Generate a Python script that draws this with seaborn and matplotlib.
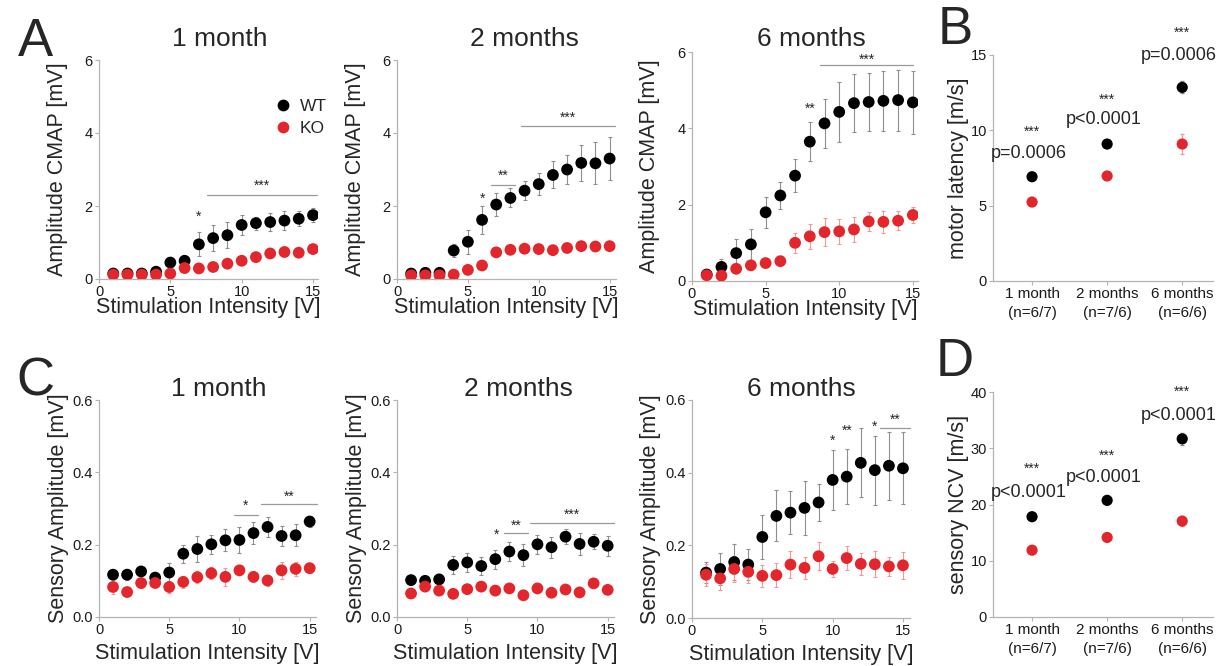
import pandas as pd
import seaborn as sns
import matplotlib.pyplot as plt

stim = list(range(1, 16))

# CMAP amplitude [mV], mean and SEM, WT / KO
cmap_1m_wt = [0.15, 0.15, 0.15, 0.2, 0.45, 0.5, 0.95, 1.12, 1.2, 1.48, 1.53, 1.56, 1.6, 1.65, 1.75]
cmap_1m_wt_err = [0.02, 0.02, 0.02, 0.04, 0.05, 0.05, 0.33, 0.35, 0.36, 0.27, 0.18, 0.24, 0.25, 0.21, 0.2]
cmap_1m_ko = [0.12, 0.12, 0.12, 0.12, 0.15, 0.3, 0.29, 0.33, 0.42, 0.5, 0.6, 0.7, 0.74, 0.72, 0.82]
cmap_1m_ko_err = [0.02, 0.02, 0.02, 0.03, 0.04, 0.05, 0.05, 0.05, 0.06, 0.05, 0.05, 0.05, 0.05, 0.05, 0.06]

cmap_2m_wt = [0.15, 0.17, 0.17, 0.78, 1.02, 1.62, 2.04, 2.22, 2.42, 2.6, 2.85, 3.0, 3.18, 3.17, 3.3]
cmap_2m_wt_err = [0.03, 0.03, 0.03, 0.17, 0.33, 0.39, 0.31, 0.26, 0.26, 0.3, 0.37, 0.41, 0.5, 0.57, 0.58]
cmap_2m_ko = [0.1, 0.1, 0.1, 0.12, 0.25, 0.37, 0.73, 0.8, 0.83, 0.82, 0.79, 0.85, 0.9, 0.89, 0.9]
cmap_2m_ko_err = [0.02, 0.02, 0.02, 0.03, 0.04, 0.05, 0.06, 0.05, 0.05, 0.05, 0.05, 0.06, 0.08, 0.06, 0.06]

cmap_6m_wt = [0.17, 0.37, 0.73, 0.96, 1.8, 2.24, 2.76, 3.65, 4.13, 4.43, 4.66, 4.69, 4.72, 4.74, 4.68]
cmap_6m_wt_err = [0.05, 0.2, 0.36, 0.4, 0.4, 0.35, 0.44, 0.51, 0.65, 0.78, 0.76, 0.75, 0.79, 0.8, 0.83]
cmap_6m_ko = [0.15, 0.14, 0.32, 0.41, 0.47, 0.52, 1.0, 1.17, 1.28, 1.3, 1.35, 1.56, 1.55, 1.58, 1.73]
cmap_6m_ko_err = [0.04, 0.04, 0.06, 0.08, 0.08, 0.09, 0.27, 0.33, 0.37, 0.33, 0.32, 0.26, 0.28, 0.25, 0.2]

# sensory amplitude [mV]
sens_1m_wt = [0.117, 0.117, 0.126, 0.109, 0.123, 0.175, 0.188, 0.201, 0.212, 0.213, 0.232, 0.249, 0.224, 0.226, 0.264]
sens_1m_wt_err = [0.01, 0.015, 0.01, 0.008, 0.025, 0.025, 0.035, 0.026, 0.03, 0.035, 0.03, 0.028, 0.027, 0.03, 0.015]
sens_1m_ko = [0.083, 0.069, 0.094, 0.094, 0.083, 0.097, 0.11, 0.121, 0.111, 0.129, 0.111, 0.101, 0.129, 0.133, 0.135]
sens_1m_ko_err = [0.02, 0.01, 0.014, 0.01, 0.016, 0.016, 0.017, 0.016, 0.025, 0.014, 0.015, 0.015, 0.023, 0.019, 0.012]

sens_2m_wt = [0.102, 0.1, 0.104, 0.144, 0.151, 0.141, 0.16, 0.181, 0.171, 0.201, 0.193, 0.222, 0.202, 0.208, 0.197]
sens_2m_wt_err = [0.01, 0.01, 0.012, 0.024, 0.027, 0.024, 0.026, 0.026, 0.031, 0.027, 0.029, 0.02, 0.03, 0.021, 0.028]
sens_2m_ko = [0.065, 0.084, 0.073, 0.064, 0.077, 0.084, 0.073, 0.079, 0.06, 0.079, 0.067, 0.076, 0.068, 0.093, 0.075]
sens_2m_ko_err = [0.007, 0.008, 0.007, 0.006, 0.008, 0.008, 0.007, 0.008, 0.006, 0.008, 0.007, 0.008, 0.007, 0.009, 0.007]

sens_6m_wt = [0.125, 0.135, 0.154, 0.147, 0.223, 0.281, 0.29, 0.303, 0.318, 0.38, 0.389, 0.427, 0.407, 0.419, 0.412]
sens_6m_wt_err = [0.03, 0.043, 0.05, 0.043, 0.06, 0.07, 0.06, 0.075, 0.052, 0.083, 0.076, 0.095, 0.095, 0.093, 0.099]
sens_6m_ko = [0.119, 0.109, 0.135, 0.127, 0.116, 0.118, 0.147, 0.138, 0.17, 0.135, 0.165, 0.149, 0.148, 0.142, 0.145]
sens_6m_ko_err = [0.03, 0.033, 0.035, 0.032, 0.031, 0.033, 0.037, 0.03, 0.038, 0.023, 0.032, 0.03, 0.036, 0.027, 0.038]

# conduction, per age group
ages = ["1 month\n(n=6/7)", "2 months\n(n=7/6)", "6 months\n(n=6/6)"]
latency_wt = [6.92, 9.09, 12.85]
latency_wt_err = [0.15, 0.2, 0.4]
latency_ko = [5.24, 6.97, 9.09]
latency_ko_err = [0.2, 0.2, 0.65]
latency_p = ["p=0.0006", "p<0.0001", "p=0.0006"]

ncv_wt = [17.83, 20.74, 31.67]
ncv_wt_err = [0.5, 0.6, 1.1]
ncv_ko = [11.88, 14.14, 17.05]
ncv_ko_err = [0.6, 0.5, 0.9]
ncv_p = ["p<0.0001", "p<0.0001", "p<0.0001"]

sns.set_theme(style="ticks")
plt.rcParams['font.family'] = ['Liberation Sans', 'DejaVu Sans']

W, H = 1216, 666
fig = plt.figure(figsize=(W / 100, H / 100), dpi=100)

palette = {"WT": "black", "KO": "#e3262b"}
SPINE = "#b3b3b3"


def box(l, r, t, b):
    return [l / W, 1 - b / H, (r - l) / W, (b - t) / H]


def style_ax(ax):
    sns.despine(ax=ax)
    for s in ["left", "bottom"]:
        ax.spines[s].set_color(SPINE)
        ax.spines[s].set_linewidth(0.9)
    ax.tick_params(colors=SPINE, labelcolor="#1a1a1a", labelsize=10.5, length=3, width=0.8, pad=1.5)


def sig(ax, marks):
    for x0, x1, yl, yt, lab in marks:
        if yl is not None:
            ax.plot([x0, x1], [yl, yl], color="#999999", lw=0.9, clip_on=False)
        ax.text((x0 + x1) / 2, yt, lab, ha="center", va="center", fontsize=10, clip_on=False)


def curve(ax, wt, wt_err, ko, ko_err, ylim, yticks, ylabel, title, title_x, title_y, marks,
          legend=False, fmt="{:.0f}"):
    df = pd.DataFrame({"stim": stim + stim, "amp": wt + ko,
                       "genotype": ["WT"] * len(stim) + ["KO"] * len(stim)})
    ax.errorbar(stim, wt, yerr=wt_err, fmt="none", ecolor="#8f8f8f", elinewidth=0.8,
                capsize=1.5, capthick=0.8, zorder=1)
    ax.errorbar(stim, ko, yerr=ko_err, fmt="none", ecolor="#f29a9a", elinewidth=0.8,
                capsize=1.5, capthick=0.8, zorder=1)
    sns.scatterplot(data=df, x="stim", y="amp", hue="genotype", palette=palette, s=72,
                    linewidth=0, ax=ax, legend=legend, zorder=3)
    ax.set_ylim(*ylim)
    ax.set_xticks([0, 5, 10, 15])
    ax.set_yticks(yticks)
    ax.set_yticklabels([fmt.format(v) for v in yticks])
    ax.set_xlabel("Stimulation Intensity [V]", fontsize=15.5)
    ax.set_ylabel(ylabel, fontsize=15.5)
    ax.yaxis.set_label_coords(-0.14, 0.5)
    style_ax(ax)
    pos = ax.get_position()
    fig.text(pos.x0 + title_x * pos.width, 1 - title_y / H, title, ha="center",
             va="baseline", fontsize=19)
    sig(ax, marks)


def groups(ax, wt, wt_err, ko, ko_err, ptexts, ylim, yticks, ylabel, ystar, yp):
    pos = list(range(len(ages)))
    df = pd.DataFrame({"age": pos + pos, "val": wt + ko,
                       "genotype": ["WT"] * len(pos) + ["KO"] * len(pos)})
    ax.errorbar(pos, wt, yerr=wt_err, fmt="none", ecolor="#8f8f8f", elinewidth=0.8,
                capsize=1.5, zorder=1)
    ax.errorbar(pos, ko, yerr=ko_err, fmt="none", ecolor="#f29a9a", elinewidth=0.8,
                capsize=1.5, zorder=1)
    sns.scatterplot(data=df, x="age", y="val", hue="genotype", palette=palette, s=65,
                    linewidth=0, ax=ax, legend=False, zorder=3)
    ax.set_xlim(-0.52, 2.41)
    ax.set_ylim(*ylim)
    ax.set_yticks(yticks)
    ax.set_xticks(pos)
    ax.set_xticklabels(ages, linespacing=1.45)
    ax.set_xlabel("")
    ax.set_ylabel(ylabel, fontsize=15.5)
    ax.yaxis.set_label_coords(-0.11, 0.5)
    style_ax(ax)
    ax.tick_params(axis="x", labelsize=11)
    for i, p in enumerate(ptexts):
        ax.text(i, ystar[i], "***", ha="center", va="center", fontsize=10, clip_on=False)
        ax.text(i - 0.04, yp[i], p, ha="center", va="center", fontsize=13, clip_on=False)


# A: CMAP amplitude
ax = fig.add_axes(box(99, 318, 60, 279))
curve(ax, cmap_1m_wt, cmap_1m_wt_err, cmap_1m_ko, cmap_1m_ko_err, (0, 6), [0, 2, 4, 6],
      "Amplitude CMAP [mV]", "1 month", 0.55, 46,
      [(7, 7, None, 1.7, "*"), (7.6, 15.3, 2.3, 2.55, "***")], legend=True)
ax.set_xlim(0, 15.35)
ax.xaxis.set_label_coords(0.5, -0.082)
sns.move_legend(ax, "upper left", bbox_to_anchor=(0.72, 0.86), frameon=False, title=None,
                fontsize=12.5, handletextpad=0.0, labelspacing=0.35, borderpad=0)

ax = fig.add_axes(box(397, 616, 60, 279))
curve(ax, cmap_2m_wt, cmap_2m_wt_err, cmap_2m_ko, cmap_2m_ko_err, (0, 6), [0, 2, 4, 6],
      "Amplitude CMAP [mV]", "2 months", 0.58, 46,
      [(6, 6, None, 2.2, "*"), (6.63, 8.3, 2.58, 2.82, "**"), (8.75, 15.4, 4.19, 4.42, "***")])
ax.set_xlim(0, 15.45)
ax.xaxis.set_label_coords(0.5, -0.082)

ax = fig.add_axes(box(692, 918, 52, 281))
curve(ax, cmap_6m_wt, cmap_6m_wt_err, cmap_6m_ko, cmap_6m_ko_err, (0, 6), [0, 2, 4, 6],
      "Amplitude CMAP [mV]", "6 months", 0.53, 46,
      [(8, 8, None, 4.52, "**"), (8.7, 15.0, 5.67, 5.79, "***")])
ax.set_xlim(0, 15.35)
ax.xaxis.set_label_coords(0.5, -0.078)

# B: motor latency
ax = fig.add_axes(box(993, 1213, 55, 281))
groups(ax, latency_wt, latency_wt_err, latency_ko, latency_ko_err, latency_p, (0, 15),
       [0, 5, 10, 15], "motor latency [m/s]", [9.9, 12.06, 16.48], [8.43, 10.69, 15.0])

# C: sensory amplitude
ax = fig.add_axes(box(99, 316, 400, 617))
curve(ax, sens_1m_wt, sens_1m_wt_err, sens_1m_ko, sens_1m_ko_err, (0, 0.6), [0, 0.2, 0.4, 0.6],
      "Sensory Amplitude [mV]", "1 month", 0.55, 396,
      [(9.6, 11.3, 0.282, 0.307, "*"), (11.56, 15.5, 0.313, 0.333, "**")], fmt="{:.1f}")
ax.set_xlim(0, 15.45)
ax.xaxis.set_label_coords(0.5, -0.12)

ax = fig.add_axes(box(397, 614, 400, 617))
curve(ax, sens_2m_wt, sens_2m_wt_err, sens_2m_ko, sens_2m_ko_err, (0, 0.6), [0, 0.2, 0.4, 0.6],
      "Sensory Amplitude [mV]", "2 months", 0.56, 396,
      [(7.06, 7.06, None, 0.227, "*"), (7.6, 9.35, 0.231, 0.253, "**"),
       (9.5, 15.45, 0.259, 0.283, "***")], fmt="{:.1f}")
ax.set_xlim(0, 15.45)
ax.xaxis.set_label_coords(0.5, -0.12)

ax = fig.add_axes(box(692, 910, 400, 618))
curve(ax, sens_6m_wt, sens_6m_wt_err, sens_6m_ko, sens_6m_ko_err, (0, 0.6), [0, 0.2, 0.4, 0.6],
      "Sensory Amplitude [mV]", "6 months", 0.5, 396,
      [(10, 10, None, 0.488, "*"), (11, 11, None, 0.516, "**"), (13, 13, None, 0.525, "*"),
       (13.35, 15.5, 0.522, 0.545, "**")], fmt="{:.1f}")
ax.set_xlim(0, 15.5)
ax.xaxis.set_label_coords(0.5, -0.12)

# D: sensory NCV
ax = fig.add_axes(box(993, 1213, 392, 617))
groups(ax, ncv_wt, ncv_wt_err, ncv_ko, ncv_ko_err, ncv_p, (0, 40),
       [0, 10, 20, 30, 40], "sensory NCV [m/s]", [26.4, 28.6, 40.0], [22.15, 24.8, 35.9])

for lab, x, y in [("A", 35, 42), ("B", 955, 30), ("C", 35, 381), ("D", 955, 362)]:
    fig.text(x / W, 1 - y / H, lab, fontsize=38, ha="center", va="center")

fig.savefig("out.png", dpi=100)
